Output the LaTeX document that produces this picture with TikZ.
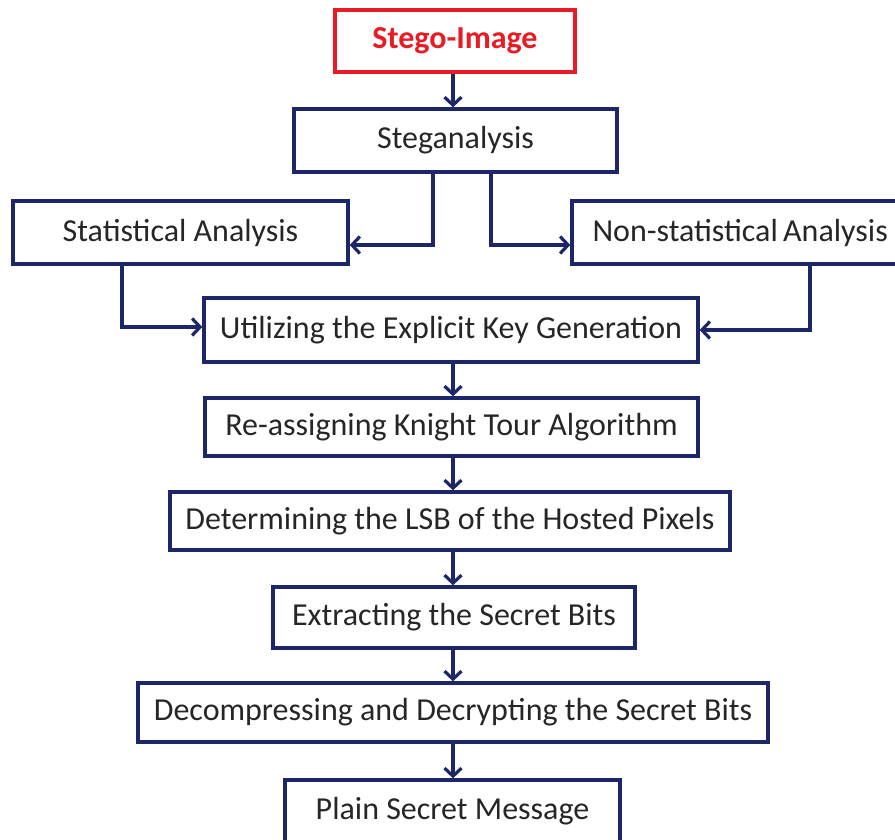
\documentclass[tikz,border=0pt]{standalone}
\usepackage{fontspec}
\setmainfont{Carlito}
\usetikzlibrary{arrows.meta,calc}
\definecolor{navy}{RGB}{28,38,104}
\definecolor{alertred}{RGB}{232,28,36}
\definecolor{ink}{RGB}{38,38,38}
\begin{document}
\begin{tikzpicture}[x=1pt,y=-1pt,
  stepbox/.style={draw=navy,line width=3.4pt,fill=white,inner sep=0pt,
    text=ink,font=\fontsize{32}{38}\selectfont},
  flow/.style={draw=navy,line width=3.4pt,
    -{Straight Barb[length=8pt,width=17pt,line width=3.2pt]}}]
\useasboundingbox (0,0) rectangle (895,840);
\fill[white] (0,0) rectangle (895,840);

% boxes
\node[stepbox,draw=alertred,text=alertred,font=\fontsize{32}{38}\selectfont\bfseries,
  minimum width=240pt,minimum height=62pt] (stego) at (455,41) {Stego-Image};
\node[stepbox,minimum width=323pt,minimum height=63pt] (steg) at (455.5,140.5) {Steganalysis};
\node[stepbox,minimum width=335pt,minimum height=63pt] (stat) at (180.5,232.5) {Statistical Analysis};
\node[stepbox,minimum width=333pt,minimum height=63pt,text width=320pt,align=left]
  (nonstat) at (738.5,232.5) {\hspace*{14pt}Non-statistical\,Analysis};
\node[stepbox,minimum width=494pt,minimum height=64pt] (util) at (451,330) {Utilizing the Explicit Key Generation};
\node[stepbox,minimum width=493pt,minimum height=58pt] (reas) at (451.5,427) {Re-assigning Knight Tour Algorithm};
\node[stepbox,minimum width=560pt,minimum height=58pt] (lsb) at (450,521) {Determining the LSB of the Hosted Pixels};
\node[stepbox,minimum width=362pt,minimum height=61pt] (extr) at (454,617.5) {Extracting the Secret Bits};
\node[stepbox,minimum width=630pt,minimum height=59pt] (deco) at (453,712.5) {Decompressing and Decrypting the Secret Bits};
\node[stepbox,minimum width=335pt,minimum height=62pt] (plain) at (452.5,811) {Plain Secret Message};

% main vertical flow
\coordinate (axis) at (453,0);
\draw[flow] (axis |- stego.south) -- (axis |- steg.north);
\draw[flow] (axis |- util.south) -- (axis |- reas.north);
\draw[flow] (axis |- reas.south) -- (axis |- lsb.north);
\draw[flow] (axis |- lsb.south) -- (axis |- extr.north);
\draw[flow] (axis |- extr.south) -- (axis |- deco.north);
\draw[flow] (axis |- deco.south) -- (axis |- plain.north);

% branches out of the analysis step
\draw[flow] ([xshift=-22.5pt]steg.south) |- ([yshift=-12.5pt]stat.east);
\draw[flow] ([xshift=35.5pt]steg.south) |- ([yshift=-12.5pt]nonstat.west);

% branches joining the key generation step
\draw[flow] ([xshift=-58.5pt]stat.south) |- ([yshift=3pt]util.west);
\draw[flow] ([xshift=71.5pt]nonstat.south) |- (util.east);
\end{tikzpicture}
\end{document}
